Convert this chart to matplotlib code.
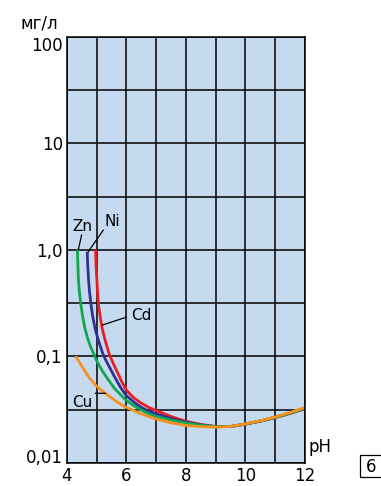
import matplotlib
matplotlib.use('Agg')
import matplotlib.pyplot as plt
from matplotlib.patches import Rectangle

# ---- data (pH vs concentration, mg/L) ----
ph_cd = [4.97, 4.98, 5.01, 5.03, 5.06, 5.12, 5.19, 5.3, 5.42, 5.55, 5.7, 5.85, 6.0, 6.25, 6.5, 6.75,
         7.0, 7.5, 8.0, 8.5, 9.0, 9.5, 10.0, 10.5, 11.0, 11.5, 12.0]
conc_cd = [1.0, 0.759, 0.54, 0.417, 0.314, 0.240, 0.183, 0.138, 0.106, 0.0871, 0.0708, 0.0575, 0.0482,
           0.0407, 0.0363, 0.0331, 0.0309, 0.0272, 0.0245, 0.0229, 0.0219, 0.0218, 0.0230, 0.0245,
           0.0265, 0.0290, 0.0322]

ph_ni = [4.69, 4.70, 4.73, 4.76, 4.81, 4.87, 4.95, 5.05, 5.2, 5.3, 5.45, 5.6, 5.8, 6.0, 6.25, 6.5,
         6.75, 7.0, 7.5, 8.0, 8.5, 9.0, 9.5, 10.0, 10.5, 11.0, 11.5, 12.0]
conc_ni = [0.955, 0.759, 0.54, 0.417, 0.314, 0.240, 0.183, 0.1445, 0.108, 0.0933, 0.0776, 0.0646,
           0.0513, 0.0427, 0.0372, 0.0331, 0.0305, 0.0288, 0.0260, 0.0240, 0.0226, 0.0218, 0.0219,
           0.0231, 0.0247, 0.0267, 0.0293, 0.0326]

ph_zn = [4.36, 4.37, 4.39, 4.42, 4.47, 4.53, 4.61, 4.7, 4.8, 4.92, 5.0, 5.2, 5.4, 5.6, 5.8, 6.0,
         6.25, 6.5, 6.75, 7.0, 7.5, 8.0, 8.5, 9.0, 9.5, 10.0, 10.5, 11.0, 11.5, 12.0]
conc_zn = [1.0, 0.794, 0.54, 0.417, 0.314, 0.240, 0.183, 0.148, 0.123, 0.1035, 0.0912, 0.0724,
           0.0598, 0.0501, 0.0437, 0.0385, 0.0343, 0.0313, 0.0288, 0.0272, 0.0251, 0.0237, 0.0225,
           0.0218, 0.0219, 0.0231, 0.0246, 0.0266, 0.0292, 0.0325]

ph_cu = [4.3, 4.4, 4.5, 4.625, 4.75, 4.875, 5.0, 5.25, 5.5, 5.75, 6.0, 6.25, 6.5, 6.75, 7.0, 7.5,
         8.0, 8.5, 9.0, 9.5, 10.0, 10.5, 11.0, 11.5, 12.0]
conc_cu = [0.1, 0.0902, 0.0813, 0.0716, 0.0631, 0.0575, 0.0525, 0.0457, 0.0407, 0.0363, 0.0331,
           0.0309, 0.0288, 0.0271, 0.0257, 0.0237, 0.0224, 0.0218, 0.0216, 0.0219, 0.0232, 0.0248,
           0.0269, 0.0296, 0.0331]

x_major = [4, 6, 8, 10, 12]
x_major_labels = ['4', '6', '8', '10', '12']
x_minor = [5, 7, 9, 11]
y_major = [0.01, 0.1, 1, 10, 100]
y_major_labels = ['0,01', '0,1', '1,0', '10', '100']
y_minor = [0.0316, 0.316, 3.16, 31.6]

# label annotations: (text, point on curve, text position, leader end)
labels = [
    ('Zn', (4.39, 1.0), (4.51, 1.67), (4.50, 1.38)),
    ('Ni', (4.72, 0.957), (5.54, 1.84), (5.23, 1.53)),
    ('Cd', (5.19, 0.196), (6.49, 0.239), (6.01, 0.233)),
    ('Cu', (5.31, 0.0449), (4.53, 0.0367), (4.95, 0.0449)),
]

plt.rcParams['font.family'] = ['DejaVu Sans']

fig = plt.figure(figsize=(3.81, 4.86), dpi=100)
ax = fig.add_axes([0.1751, 0.0479, 0.6255, 0.8765])
ax.set_facecolor('#c6daef')
ax.set_yscale('log')
ax.set_xlim(4, 12)
ax.set_ylim(0.01, 100)

ax.set_xticks(x_major)
ax.set_xticklabels(x_major_labels)
ax.set_xticks(x_minor, minor=True)
ax.set_yticks(y_major)
ax.set_yticklabels(y_major_labels)
ax.set_yticks(y_minor, minor=True)
ax.yaxis.set_minor_formatter(plt.NullFormatter())
ax.tick_params(which='both', length=0, labelsize=12, colors='black')
ax.tick_params(axis='x', pad=3.3)
ax.tick_params(axis='y', pad=2.8)
ax.grid(which='both', color='black', lw=1.1)
ax.set_axisbelow(True)
for s in ax.spines.values():
    s.set_color('black')
    s.set_linewidth(1.1)

ylabs = ax.get_yticklabels()
ylabs[0].set_va('baseline')
ylabs[-1].set_va('top')

lw = 2.0
style = dict(lw=lw, solid_capstyle='butt', solid_joinstyle='round')
ax.plot(ph_cd, conc_cd, color='#ec1c24', **style)
ax.plot(ph_ni, conc_ni, color='#2e3192', **style)
ax.plot(ph_zn, conc_zn, color='#10a650', **style)
ax.plot(ph_cu, conc_cu, color='#f7901e', **style)

for txt, pt, tpos, lend in labels:
    ax.text(tpos[0], tpos[1], txt, ha='center', va='center', fontsize=11)
    ax.annotate('', xy=pt, xytext=lend,
                arrowprops=dict(arrowstyle='-', lw=0.9, color='black', shrinkA=0, shrinkB=0))

fig.text(39 / 381, (486 - 28) / 486, 'мг/л', ha='center', va='baseline', fontsize=12)
fig.text(308 / 381, (486 - 452.3) / 486, 'pH', ha='left', va='baseline', fontsize=12)
fig.patches.append(Rectangle((360 / 381, (486 - 477) / 486), 0.2, 22 / 486, fill=False,
                             edgecolor='black', lw=0.9, transform=fig.transFigure, figure=fig))
fig.text(366 / 381, (486 - 472) / 486, '6', ha='left', va='baseline', fontsize=12)

fig.savefig('out.png', dpi=100)
